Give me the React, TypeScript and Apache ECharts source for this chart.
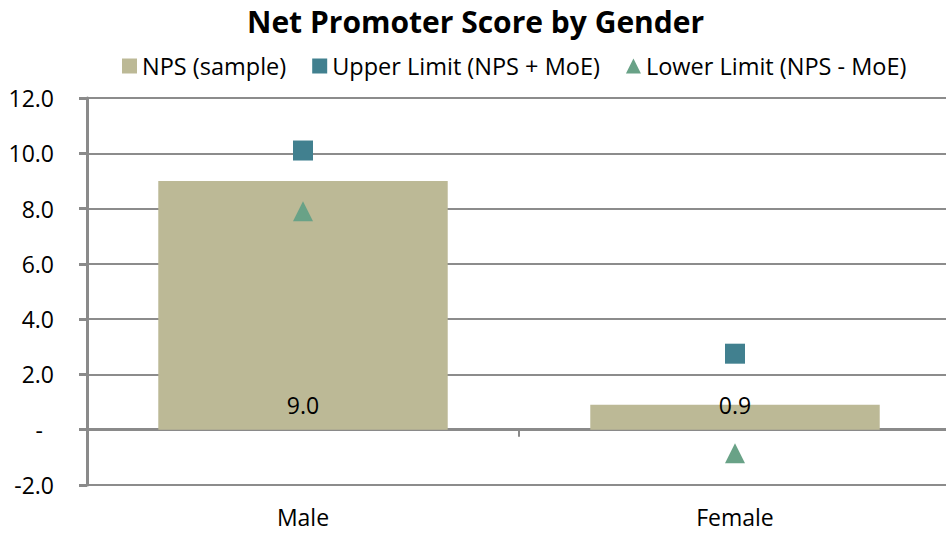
import React, { useEffect, useRef } from "react";
import * as echarts from "echarts";

const categories = ["Male", "Female"];
const npsSample = [9.0, 0.9];
const upperLimit = [10.1, 2.75];
const lowerLimit = [7.9, -0.85];
const yTicks = { min: -2, max: 12, interval: 2 };

const FONT = "'Open Sans', 'Noto Sans', sans-serif";

export default function App() {
  const ref = useRef<HTMLDivElement>(null);
  useEffect(() => {
    document.body.style.margin = "0";
    const chart = echarts.init(ref.current!, undefined, { renderer: "svg" });
    chart.setOption({
      animation: false,
      textStyle: { fontFamily: FONT },
      title: {
        text: "Net Promoter Score by Gender",
        left: 247,
        top: 2,
        padding: 0,
        textStyle: {
          fontFamily: FONT,
          fontSize: 30,
          lineHeight: 38,
          fontWeight: "bold",
          color: "#000",
        },
      },
      legend: {
        top: 49,
        left: 117,
        itemWidth: 15,
        itemHeight: 15,
        itemGap: 26,
        textStyle: { fontFamily: FONT, fontSize: 23.5, color: "#000" },
        data: [
          { name: "NPS (sample)", icon: "rect" },
          { name: "Upper Limit (NPS + MoE)", icon: "rect" },
          { name: "Lower Limit (NPS - MoE)", icon: "triangle" },
        ],
      },
      grid: {
        left: 87,
        right: -5,
        top: 98,
        bottom: 48,
        containLabel: false,
        outerBoundsMode: "none",
      },
      xAxis: {
        type: "category",
        data: categories,
        axisLine: { onZero: true, lineStyle: { color: "#8a8a8a", width: 3 } },
        axisTick: { show: true, length: 7, lineStyle: { color: "#8a8a8a", width: 2 } },
        axisLabel: { margin: 20, fontSize: 23, color: "#000", fontFamily: FONT },
        splitLine: { show: false },
      },
      yAxis: {
        type: "value",
        min: yTicks.min,
        max: yTicks.max,
        interval: yTicks.interval,
        axisLine: { show: true, lineStyle: { color: "#8a8a8a", width: 3 } },
        axisTick: { show: true, length: 8, lineStyle: { color: "#8a8a8a", width: 3 } },
        axisLabel: {
          margin: 33,
          fontSize: 23,
          color: "#000",
          fontFamily: FONT,
          formatter: (v: number) => (v === 0 ? "{d|-}" : v.toFixed(1)),
          rich: { d: { fontSize: 23, color: "#000", fontFamily: FONT, padding: [0, 11, 0, 0] } },
        },
        splitLine: { show: true, lineStyle: { color: "#8c8c8c", width: 2 } },
      },
      series: [
        {
          name: "NPS (sample)",
          type: "bar",
          data: npsSample,
          barWidth: "67%",
          itemStyle: { color: "#bcb996" },
          label: {
            show: true,
            position: "insideBottom",
            distance: 13,
            fontSize: 23,
            color: "#000",
            fontFamily: FONT,
            formatter: (p: any) => Number(p.value).toFixed(1),
          },
        },
        {
          name: "Upper Limit (NPS + MoE)",
          type: "scatter",
          data: upperLimit,
          symbol: "rect",
          symbolSize: 20,
          itemStyle: { color: "#41808f", opacity: 1 },
        },
        {
          name: "Lower Limit (NPS - MoE)",
          type: "scatter",
          data: lowerLimit,
          symbol: "triangle",
          symbolSize: 20,
          itemStyle: { color: "#69a287", opacity: 1 },
        },
      ],
    });
    return () => chart.dispose();
  }, []);
  return <div ref={ref} style={{ width: 946, height: 533 }} />;
}
